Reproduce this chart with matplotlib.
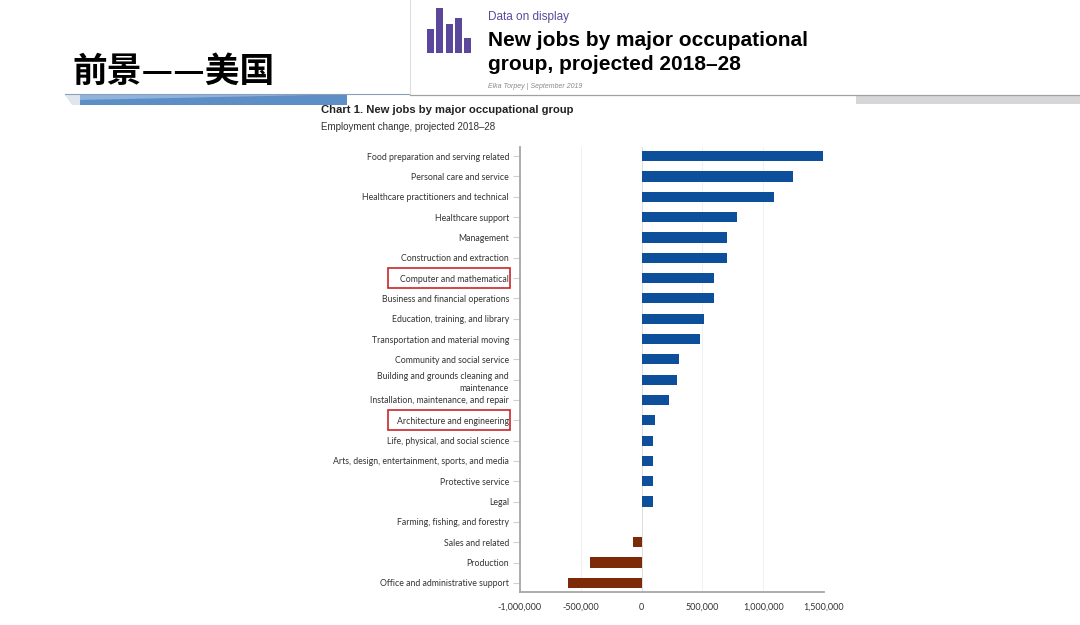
import numpy as np
import matplotlib.pyplot as plt
from matplotlib.patches import Rectangle, Polygon
from matplotlib.ticker import FuncFormatter

# employment change 2018-28
groups = [
    'Food preparation and serving related',
    'Personal care and service',
    'Healthcare practitioners and technical',
    'Healthcare support',
    'Management',
    'Construction and extraction',
    'Computer and mathematical',
    'Business and financial operations',
    'Education, training, and library',
    'Transportation and material moving',
    'Community and social service',
    'Building and grounds cleaning and\nmaintenance',
    'Installation, maintenance, and repair',
    'Architecture and engineering',
    'Life, physical, and social science',
    'Arts, design, entertainment, sports, and media',
    'Protective service',
    'Legal',
    'Farming, fishing, and forestry',
    'Sales and related',
    'Production',
    'Office and administrative support',
]
change = [1494000, 1241000, 1087000, 783000, 703000, 703000, 592000, 592000,
          512000, 481000, 307000, 290000, 228000, 111000, 97000, 97000,
          91000, 91000, 6000, -74000, -421000, -603000]
xticks = [-1000000, -500000, 0, 500000, 1000000, 1500000]
highlighted = ['Computer and mathematical', 'Architecture and engineering']

icon_heights = [24, 45, 29, 35, 15]

W, H = 1080, 625
def fx(px):
    return px / W
def fy(py):
    return 1 - py / H

fig = plt.figure(figsize=(10.8, 6.25), dpi=100)
fig.patch.set_facecolor('white')

# slide title and decoration
fig.text(fx(72), fy(71), '前景——美国', fontsize=25, fontweight='heavy',
         family=['Noto Sans CJK SC', 'DejaVu Sans'], va='center', ha='left')
fig.add_artist(Polygon([(fx(75), fy(95)), (fx(347), fy(95)), (fx(347), fy(105)),
                        (fx(80), fy(105))], closed=True, transform=fig.transFigure,
                       facecolor='#5d8ec6', edgecolor='none'))
fig.add_artist(Polygon([(fx(80), fy(95)), (fx(313), fy(95)), (fx(80), fy(100))],
                       closed=True, transform=fig.transFigure,
                       facecolor='#8fb3da', edgecolor='none'))
fig.add_artist(Polygon([(fx(65), fy(95)), (fx(80), fy(95)), (fx(80), fy(105)), (fx(72), fy(105))],
                       closed=True, transform=fig.transFigure,
                       facecolor='#dfe6ee', edgecolor='none'))
fig.add_artist(plt.Line2D([fx(65), fx(410)], [fy(94), fy(94)], transform=fig.transFigure,
                          color='#8a9fb8', lw=0.8))

# header box (screenshot of the article header)
fig.add_artist(plt.Line2D([fx(410), fx(410)], [fy(0), fy(94)], transform=fig.transFigure,
                          color='#dddddd', lw=0.8))
fig.add_artist(plt.Line2D([fx(410), fx(1080)], [fy(95), fy(95)], transform=fig.transFigure,
                          color='#a0a0a0', lw=0.9))
fig.add_artist(Rectangle((fx(856), fy(104)), fx(1080) - fx(856), 9 / H, transform=fig.transFigure,
                         facecolor='#d6d6d8', edgecolor='none'))

for i, h in enumerate(icon_heights):
    x0 = 427 + i * 9.3
    fig.add_artist(Rectangle((fx(x0), fy(53)), 7 / W, h / H, transform=fig.transFigure,
                             facecolor='#5b489c', edgecolor='none'))

fig.text(fx(488), fy(17), 'Data on display', fontsize=8.5, color='#5b489c',
         family='Liberation Sans', va='center')
fig.text(fx(488), fy(40), 'New jobs by major occupational', fontsize=15, fontweight='bold',
         family='Liberation Sans', va='center')
fig.text(fx(488), fy(65), 'group, projected 2018\u201328', fontsize=15, fontweight='bold',
         family='Liberation Sans', va='center')
fig.text(fx(488), fy(87), 'Elka Torpey | September 2019', fontsize=5, style='italic',
         color='#8a8a8a', family='Liberation Sans', va='center')

# chart titles
fig.text(fx(321), fy(110), 'Chart 1. New jobs by major occupational group', fontsize=8.1,
         fontweight='bold', family='Liberation Sans', va='center', color='#222222')
fig.text(fx(321), fy(127), 'Employment change, projected 2018\u201328', fontsize=7,
         family='Liberation Sans', va='center', color='#333333')

# bar chart
ax = fig.add_axes((fx(520), fy(592), fx(824) - fx(520), (592 - 147) / H))
y = np.arange(len(groups))
colors = ['#0d4f9b' if v >= 0 else '#7d2a08' for v in change]
ax.barh(y, change, height=0.5, color=colors, zorder=3)

ax.set_xlim(-1000000, 1500000)
ax.set_ylim(len(groups) - 0.55, -0.45)
ax.set_xticks(xticks)
ax.xaxis.set_major_formatter(FuncFormatter(lambda v, p: f'{int(v):,}'))
ax.set_yticks(y)
ax.set_yticklabels(groups, family='Lato', fontsize=6.3, color='#333333', linespacing=1.5)
for lab in ax.get_xticklabels():
    lab.set_family('Lato')
    lab.set_fontsize(6.5)
    lab.set_color('#333333')

for t in xticks:
    ax.axvline(t, color='#dcdcdc' if t == 0 else '#f0f0f0', lw=0.7, zorder=1)

for s in ['top', 'right']:
    ax.spines[s].set_visible(False)
ax.spines['left'].set_color('#a6a6a6')
ax.spines['left'].set_linewidth(1.3)
ax.spines['bottom'].set_color('#a6a6a6')
ax.spines['bottom'].set_linewidth(1.3)
ax.tick_params(axis='y', length=5, color='#d0d0d0', pad=3)
ax.tick_params(axis='x', length=0, pad=8)

# red boxes around highlighted labels
for name in highlighted:
    i = groups.index(name)
    yc = ax.transData.transform((0, i))[1] / fig.dpi / fig.get_figheight()
    fig.add_artist(Rectangle((fx(388), yc - 10 / H), fx(510) - fx(388), 20 / H,
                             transform=fig.transFigure, fill=False,
                             edgecolor='#c8272b', lw=1.2))

fig.savefig('out.png', dpi=100, facecolor='white')
